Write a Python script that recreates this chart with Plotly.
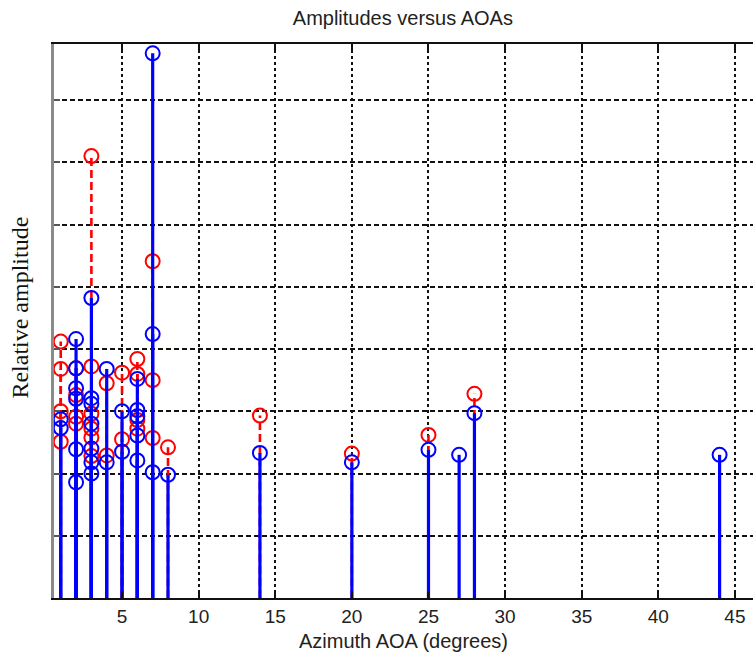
import plotly.graph_objects as go

# Azimuth AOA (degrees) and relative amplitudes, first estimate (red, dashed)
red_aoa = [1, 1, 1, 1,
           2, 2, 2, 2,
           3, 3, 3, 3, 3, 3,
           4, 4,
           5, 5,
           6, 6, 6, 6,
           7, 7, 7,
           8, 14, 20, 25, 28]
red_amp = [4.12, 3.68, 3.00, 2.51,
           3.69, 3.26, 2.91, 2.80,
           7.10, 3.72, 2.96, 2.72, 2.58, 2.28,
           3.45, 2.29,
           3.62, 2.55,
           3.84, 3.60, 2.86, 2.72,
           5.41, 3.50, 2.57,
           2.42, 2.93, 2.32, 2.62, 3.28]

# Second estimate (blue, solid)
blue_aoa = [1, 1,
            2, 2, 2, 2, 2, 2,
            3, 3, 3, 3, 3, 3, 3,
            4, 4,
            5, 5,
            6, 6, 6, 6, 6,
            7, 7, 7,
            8, 14, 20, 25, 27, 28, 44]
blue_amp = [2.87, 2.73,
            4.16, 3.69, 3.37, 3.20, 2.39, 1.86,
            4.82, 3.21, 3.12, 2.80, 2.40, 2.18, 2.00,
            3.68, 2.18,
            3.00, 2.35,
            3.52, 3.02, 2.92, 2.61, 2.21,
            8.75, 4.24, 2.02,
            1.98, 2.33, 2.18, 2.38, 2.30, 2.97, 2.30]

x_ticks = [5, 10, 15, 20, 25, 30, 35, 40, 45]
y_grid = [1, 2, 3, 4, 5, 6, 7, 8]

SANS = "Liberation Sans, Arial"
SERIF = "Liberation Serif, Times New Roman"


def stem_segments(xs, ys):
    sx, sy = [], []
    for xv, yv in zip(xs, ys):
        sx += [xv, xv, None]
        sy += [0, yv, None]
    return sx, sy


fig = go.Figure()

for xs, ys, color, dash, width in [
    (red_aoa, red_amp, "#FF0000", "8px,4px", 2.6),
    (blue_aoa, blue_amp, "#0000FF", "solid", 3.2),
]:
    sx, sy = stem_segments(xs, ys)
    fig.add_trace(go.Scatter(
        x=sx, y=sy, mode="lines",
        line=dict(color=color, width=width, dash=dash),
        hoverinfo="skip", showlegend=False,
    ))
    fig.add_trace(go.Scatter(
        x=xs, y=ys, mode="markers",
        marker=dict(symbol="circle-open", size=14, color=color,
                    line=dict(width=2, color=color)),
        showlegend=False,
    ))

fig.update_layout(
    width=753, height=664,
    margin=dict(l=54, r=0, t=44, b=66),
    paper_bgcolor="white", plot_bgcolor="white",
    title=dict(text="Amplitudes versus AOAs", x=0.535, xanchor="center",
               y=0.973, yanchor="middle",
               font=dict(family=SANS, size=20, color="#222")),
    font=dict(family=SANS, size=19, color="#222"),
    annotations=[dict(
        text="Relative amplitude", textangle=-90,
        xref="paper", yref="paper", x=-0.048, y=0.525,
        xanchor="center", yanchor="middle", showarrow=False,
        font=dict(family=SERIF, size=24, color="#111"),
    )],
)

fig.update_xaxes(
    range=[0.56, 46.18],
    tickmode="array", tickvals=x_ticks,
    ticks="inside", ticklen=6, tickcolor="#111", tickwidth=1.8,
    showline=True, linecolor="#111", linewidth=2.4, mirror="ticks",
    showgrid=True, gridcolor="#111", gridwidth=1.8, griddash="3px,3px",
    zeroline=False,
    title=dict(text="Azimuth AOA (degrees)", standoff=8,
               font=dict(family=SANS, size=20, color="#222")),
    tickfont=dict(family=SANS, size=19, color="#222"),
)

fig.update_yaxes(
    range=[0, 8.90],
    tickmode="array", tickvals=y_grid, showticklabels=False,
    ticks="inside", ticklen=6, tickcolor="#555", tickwidth=1.6,
    showline=True, linecolor="#8a8a8a", linewidth=3, mirror=False,
    showgrid=True, gridcolor="#111", gridwidth=1.8, griddash="5px,3px",
    zeroline=False,
)

fig.write_html("out.html")
